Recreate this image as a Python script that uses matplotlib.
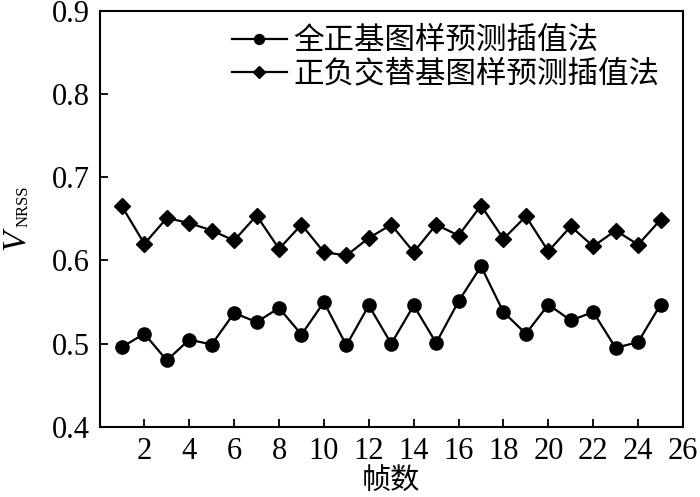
import matplotlib
matplotlib.use("Agg")
import matplotlib.pyplot as plt

plt.rcParams['font.family'] = ['Liberation Serif', 'Noto Sans CJK SC']
plt.rcParams['mathtext.fontset'] = 'stix'

frames = list(range(1, 26))
all_pos = [0.496, 0.512, 0.480, 0.505, 0.499, 0.537, 0.526, 0.543, 0.511, 0.550,
           0.498, 0.546, 0.500, 0.546, 0.501, 0.551, 0.593, 0.538, 0.512, 0.547,
           0.528, 0.538, 0.495, 0.502, 0.547]
alt_sign = [0.665, 0.620, 0.651, 0.645, 0.636, 0.624, 0.654, 0.614, 0.643, 0.610,
            0.606, 0.627, 0.643, 0.610, 0.643, 0.630, 0.666, 0.626, 0.653, 0.611,
            0.641, 0.617, 0.636, 0.619, 0.649]
labels = ['全正基图样预测插值法', '正负交替基图样预测插值法']
xticks = list(range(2, 27, 2))
yticks = [0.4, 0.5, 0.6, 0.7, 0.8, 0.9]

fig = plt.figure(figsize=(7, 4.97), dpi=100)
ax = fig.add_axes([99.5 / 700, 1 - 427 / 497, (683 - 99.5) / 700, (427 - 10.7) / 497])

ax.plot(frames, all_pos, '-o', color='black', lw=1.6, ms=9.5, label=labels[0])
ax.plot(frames, alt_sign, '-D', color='black', lw=1.6, ms=8, label=labels[1])

ax.set_xlim(0, 26)
ax.set_ylim(0.4, 0.9)
ax.set_xticks(xticks)
ax.set_yticks(yticks)
ax.set_yticklabels([f"{v:.1f}" for v in yticks])
ax.tick_params(direction='in', length=6, width=1.3, labelsize=22, pad=7)
for s in ax.spines.values():
    s.set_linewidth(1.5)

ax.set_xlabel('帧数', fontsize=21, family=['Noto Sans CJK SC'], labelpad=0)

# y label: italic V with small NRSS subscript
fig.text(15 / 700, 1 - 240 / 497, 'V', rotation=90, ha='center', va='center',
         fontsize=24, style='italic')
fig.text(24 / 700, 1 - 206 / 497, 'NRSS', rotation=90, ha='center', va='center',
         fontsize=12)

leg = ax.legend(loc='upper left', bbox_to_anchor=(0.227, 0.965), frameon=False,
                prop={'family': 'Noto Sans CJK SC', 'size': 22},
                borderpad=0, borderaxespad=0,
                handlelength=1.8, handletextpad=0.2, labelspacing=0.08, markerscale=0.75)

fig.savefig('out.png', dpi=100)
